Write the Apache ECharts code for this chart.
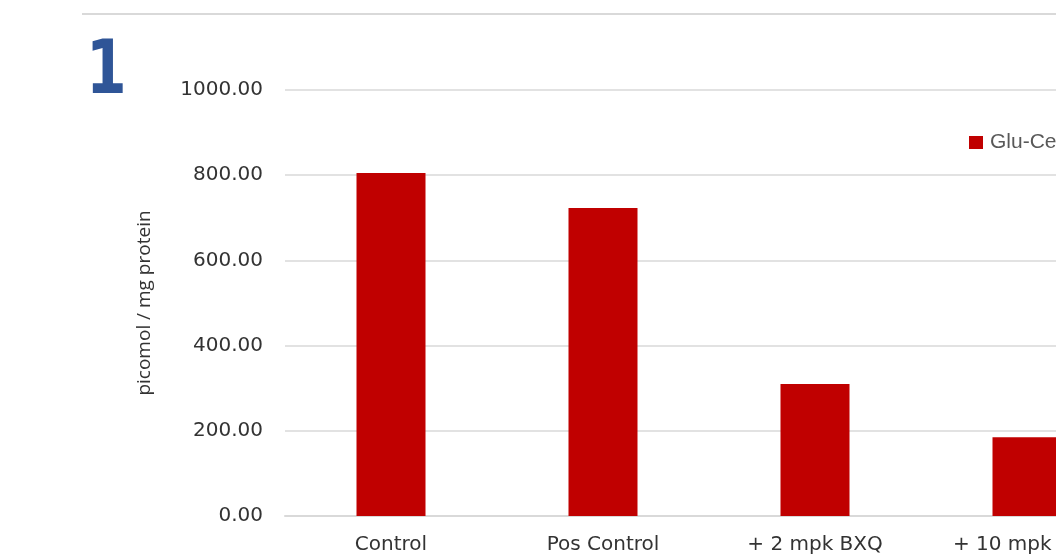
<!DOCTYPE html>
<html>
<head>
<meta charset="utf-8">
<script src="https://cdn.jsdelivr.net/npm/echarts@6/dist/echarts.min.js"></script>
<style>
  html, body { margin: 0; padding: 0; overflow: hidden; background: #fff; }
  #chart { width: 1140px; height: 557px; }
</style>
</head>
<body>
<div id="chart"></div>
<script>
// data
const categories = ['Control', 'Pos Control', '+ 2 mpk BXQ', '+ 10 mpk BXQ']
const gluCer = [805, 723, 310, 185]
const yTicks = { min: 0, max: 1000, interval: 200 }

const chart = echarts.init(document.getElementById('chart'))

const labelFont = '"DejaVu Sans", sans-serif'

const option = {
  backgroundColor: '#ffffff',
  animation: false,
  graphic: [
    {
      type: 'line',
      shape: { x1: 82, y1: 14, x2: 1140, y2: 14 },
      style: { stroke: '#d9d9d9', lineWidth: 2 }
    },
    {
      // slide number, condensed a bit
      type: 'text',
      x: 86,
      y: 37,
      scaleX: 0.79,
      style: {
        text: '1',
        fill: '#2f5597',
        fontSize: 74,
        fontWeight: 'bold',
        fontFamily: '"DejaVu Sans", sans-serif',
        align: 'left',
        verticalAlign: 'top'
      }
    }
  ],
  legend: {
    data: ['Glu-Cer'],
    left: 969,
    top: 132,
    padding: 0,
    icon: 'rect',
    itemWidth: 14,
    itemHeight: 13,
    itemGap: 7,
    textStyle: { color: '#595959', fontSize: 21, fontFamily: '"Liberation Sans", sans-serif', padding: [0, 0, 0, 2] }
  },
  grid: {
    left: 285,
    top: 90,
    width: 848,
    bottom: 41,
    containLabel: false
  },
  xAxis: {
    type: 'category',
    data: categories,
    axisLine: { lineStyle: { color: '#d9d9d9', width: 2 } },
    axisTick: { show: false },
    axisLabel: {
      color: '#333333',
      fontSize: 20,
      fontFamily: labelFont,
      margin: 19
    }
  },
  yAxis: {
    type: 'value',
    min: yTicks.min,
    max: yTicks.max,
    interval: yTicks.interval,
    name: 'picomol / mg protein',
    nameLocation: 'middle',
    nameGap: 131,
    nameTextStyle: { color: '#333333', fontSize: 19, fontFamily: '"Open Sans", sans-serif' },
    axisLine: { show: false },
    axisTick: { show: false },
    splitLine: { lineStyle: { color: '#d9d9d9', width: 1.5 } },
    axisLabel: {
      color: '#333333',
      fontSize: 20,
      fontFamily: labelFont,
      margin: 22,
      padding: [4, 0, 0, 0],
      formatter: v => v.toFixed(2)
    }
  },
  series: [
    {
      name: 'Glu-Cer',
      type: 'bar',
      data: gluCer,
      barWidth: 69,
      itemStyle: { color: '#c00000' }
    }
  ]
}

chart.setOption(option)
</script>
</body>
</html>
